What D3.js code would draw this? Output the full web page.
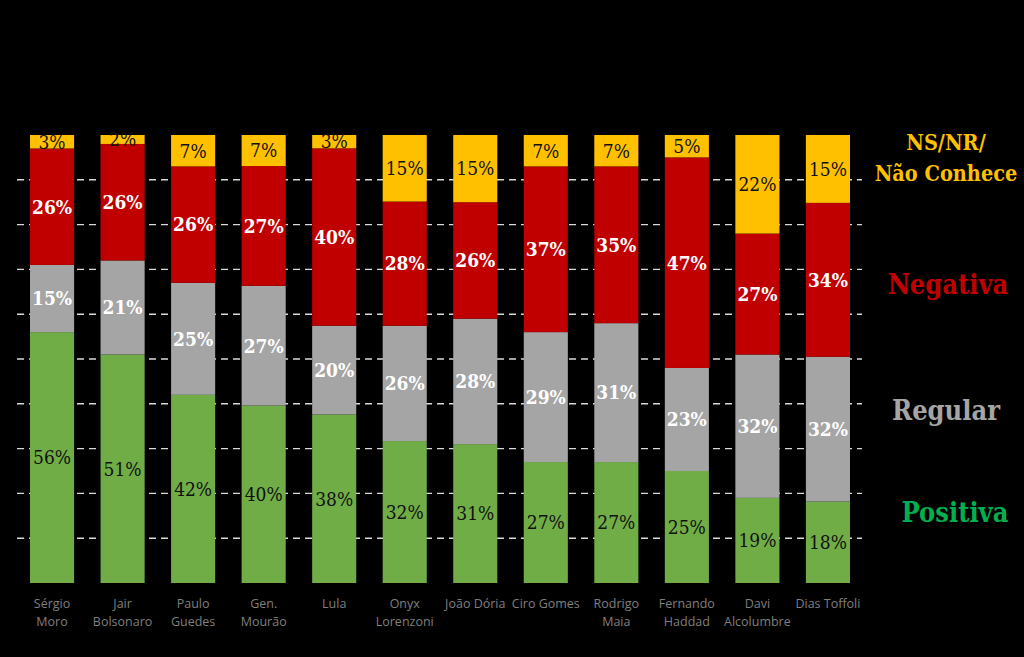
<!DOCTYPE html>
<html><head><meta charset="utf-8">
<script src="https://cdn.jsdelivr.net/npm/d3@7"></script>
<style>body{margin:0;background:#000}svg{display:block}</style>
</head><body>
<svg id="c" width="1024" height="657"></svg>
<script>
const categories = [["Sérgio","Moro"],["Jair","Bolsonaro"],["Paulo","Guedes"],["Gen.","Mourão"],["Lula"],["Onyx","Lorenzoni"],["João Dória"],["Ciro Gomes"],["Rodrigo","Maia"],["Fernando","Haddad"],["Davi","Alcolumbre"],["Dias Toffoli"]];
const positiva = [56,51,42,40,38,32,31,27,27,25,19,18];
const regular  = [15,21,25,27,20,26,28,29,31,23,32,32];
const negativa = [26,26,26,27,40,28,26,37,35,47,27,34];
const nsnr     = [3,2,7,7,3,15,15,7,7,5,22,15];
const seriesNames = ["Positiva","Regular","Negativa","NS/NR/ Não Conhece"];
const gridTicks = [0.1,0.2,0.3,0.4,0.5,0.6,0.7,0.8,0.9];

const colors = ["#70ad47","#a5a5a5","#c00000","#ffc000"];
const labelFill = ["#111","#fff","#fff","#111"];
const labelWeight = ["normal","bold","bold","normal"];

const svg = d3.select("#c");
svg.append("rect").attr("width",1024).attr("height",657).attr("fill","#000");

const x = d3.scaleBand().domain(d3.range(categories.length)).range([16.8,863.2]).paddingInner(0.375).paddingOuter(0.1875);
const y = d3.scaleLinear().domain([0,1]).range([583,135]);

// gridlines
svg.append("g").selectAll("line").data(gridTicks).join("line")
  .attr("x1",17).attr("x2",862).attr("y1",d=>y(d)).attr("y2",d=>y(d))
  .attr("stroke","#d9d9d9").attr("stroke-width",1.4).attr("stroke-dasharray","7,5");

const rows = categories.map((c,i)=>{
  const vals=[positiva[i],regular[i],negativa[i],nsnr[i]];
  const tot=d3.sum(vals);
  let acc=0;
  return vals.map((v,k)=>{const s={i,k,v,y0:acc/tot,y1:(acc+v)/tot};acc+=v;return s;});
});
const segs = rows.flat();

svg.append("g").selectAll("rect").data(segs).join("rect")
  .attr("x",d=>x(d.i)).attr("width",x.bandwidth())
  .attr("y",d=>y(d.y1)).attr("height",d=>y(d.y0)-y(d.y1))
  .attr("fill",d=>colors[d.k]);

svg.append("g").selectAll("text").data(segs).join("text")
  .attr("x",d=>x(d.i)+x.bandwidth()/2)
  .attr("y",d=>(y(d.y0)+y(d.y1))/2)
  .attr("dy","0.36em").attr("text-anchor","middle")
  .attr("font-family","'DejaVu Serif Condensed','DejaVu Serif',serif")
  .attr("font-size",19)
  .attr("font-weight",d=>labelWeight[d.k])
  .attr("fill",d=>labelFill[d.k])
  .text(d=>d.v+"%");

// category labels
const cl = svg.append("g").selectAll("text").data(categories).join("text")
  .attr("x",(d,i)=>x(i)+x.bandwidth()/2).attr("y",608)
  .attr("text-anchor","middle").attr("font-family","'Open Sans',sans-serif")
  .attr("font-size",12.5).attr("fill","#7f7f7f");
cl.selectAll("tspan").data(d=>d).join("tspan")
  .attr("x",function(){return this.parentNode.getAttribute("x");})
  .attr("dy",(d,j)=>j===0?0:18).text(d=>d);

// legend
const legend = [
  {lines:["NS/NR/","Não Conhece"],c:colors[3],y:[150,181],fs:21.5,x:946},
  {lines:["Negativa"],c:colors[2],y:[294],fs:27,x:948},
  {lines:["Regular"],c:colors[1],y:[420],fs:27,x:946},
  {lines:["Positiva"],c:"#00b050",y:[522],fs:27,x:955}
];
legend.forEach(l=>{
  l.lines.forEach((t,j)=>{
    svg.append("text").attr("x",l.x).attr("y",l.y[j]).attr("text-anchor","middle")
      .attr("font-family","'DejaVu Serif Condensed','DejaVu Serif',serif").attr("font-weight","bold")
      .attr("font-size",l.fs).attr("fill",l.c).text(t);
  });
});
</script>
</body></html>
